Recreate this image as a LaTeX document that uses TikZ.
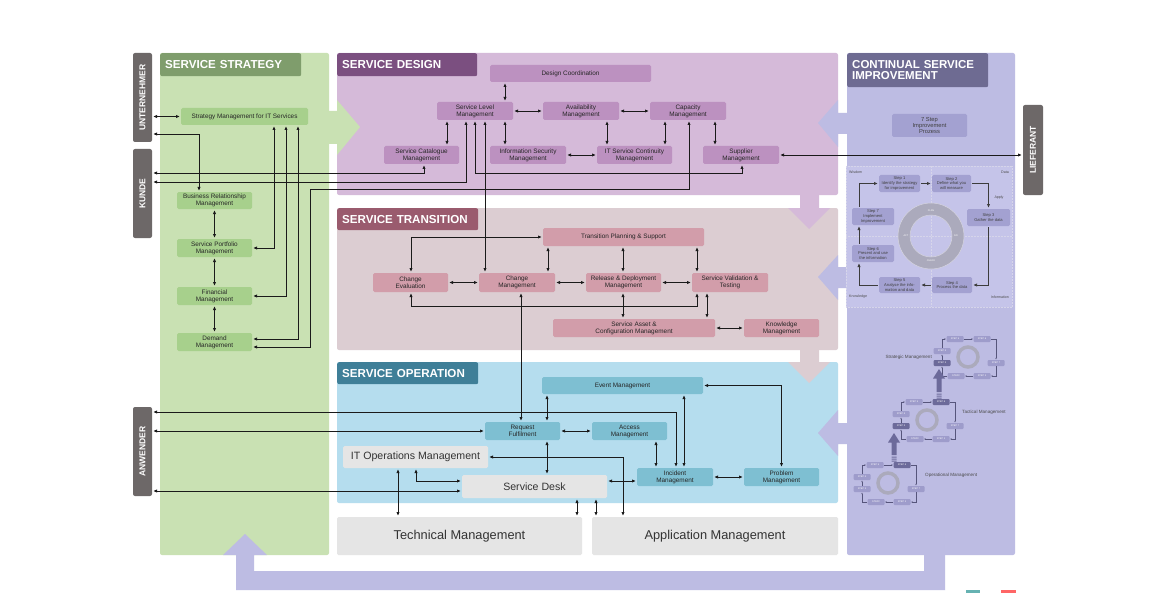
\documentclass[tikz,border=0pt]{standalone}
\usepackage{fontspec}
\setmainfont{Liberation Sans}
\usepackage{graphicx}
\usetikzlibrary{arrows.meta}
\definecolor{stratpanel}{HTML}{C9E1B3}
\definecolor{strathdr}{HTML}{7F9D6C}
\definecolor{stratbox}{HTML}{A7D08C}
\definecolor{despanel}{HTML}{D5BAD9}
\definecolor{deshdr}{HTML}{7B4F80}
\definecolor{desbox}{HTML}{BC91C0}
\definecolor{trpanel}{HTML}{DCCDD2}
\definecolor{trhdr}{HTML}{9A5B6E}
\definecolor{trbox}{HTML}{D29DAA}
\definecolor{oppanel}{HTML}{B5DDEE}
\definecolor{ophdr}{HTML}{3F7F98}
\definecolor{opbox}{HTML}{7EBFD2}
\definecolor{graybox}{HTML}{E5E5E5}
\definecolor{csipanel}{HTML}{BDBCE3}
\definecolor{csihdr}{HTML}{6E6B92}
\definecolor{csibox}{HTML}{A3A1D1}
\definecolor{csiframe}{HTML}{C5C4E9}
\definecolor{sidegray}{HTML}{6D6868}
\definecolor{ringgray}{HTML}{ABAABC}
\definecolor{darkstep}{HTML}{6C6A9A}
\definecolor{ministep}{HTML}{9E9CCB}
\definecolor{linecol}{HTML}{1A1A1A}

\newcommand\fsBox{\fontsize{6.4}{7}\selectfont}
\newcommand\fsStep{\fontsize{4.1}{4.6}\selectfont}
\newcommand\fsTiny{\fontsize{2.4}{2.8}\selectfont}
\newcommand\fsLbl{\fontsize{4.6}{5.2}\selectfont}
\newcommand\procbox[7]{\node[#6, minimum width={#4-#2}, minimum height={#5-#3}] (#1) at ({(#2+#4)/2},{(#3+#5)/2}) {#7};}
\newcommand\minicyc[5]{%
  \draw[ringgray, line width=3.5] (#2,#3) circle[radius=10];
  \node[mini] (#1a) at ({#2+14},{#3+19}) {STEP 1};
  \node[mini] (#1b) at ({#2-12},{#3+19}) {STEP2};
  \node[#4] (#1c) at ({#2-26},{#3+6}) {STEP 3};
  \node[mini] (#1d) at ({#2-26},{#3-6}) {STEP 4};
  \node[mini] (#1e) at ({#2-13},{#3-18}) {STEP 5};
  \node[#5] (#1f) at ({#2+14},{#3-18}) {STEP 6};
  \node[mini] (#1g) at ({#2+28},{#3+6}) {STEP 7};
  \draw[miniarr] (#1d.north) |- (#1e.west);
  \draw[miniarr] (#1e.east) -- (#1f.west);
  \draw[miniarr] (#1f.east) -| (#1g.north);
  \draw[miniarr] (#1g.south) |- (#1a.east);
  \draw[miniarr] (#1a.west) -- (#1b.east);
  \draw[miniarr] (#1b.west) -| (#1c.south);
  \draw[miniarr] (#1c.north) -- (#1d.south);
}

\begin{document}
\begin{tikzpicture}[x=1pt,y=-1pt,
  >={Latex[length=3.8pt,width=3.4pt]},
  box/.style={rounded corners=1.5pt, inner sep=0pt, align=center, font=\fsBox, text=black!85},
  stb/.style={box, fill=stratbox},
  dsb/.style={box, fill=desbox},
  trb/.style={box, fill=trbox},
  opb/.style={box, fill=opbox},
  gry/.style={box, fill=graybox, font=\fontsize{10.6}{12}\selectfont, text=black!80},
  bot/.style={box, fill=graybox, font=\fontsize{12.8}{14}\selectfont, text=black!80},
  csb/.style={box, fill=csibox, font=\fsStep, text=black!75},
  sipb/.style={box, fill=csibox, font=\fontsize{5.8}{6.4}\selectfont, text=black!75},
  mini/.style={rounded corners=1pt, inner sep=0pt, fill=ministep, minimum width=17, minimum height=6, font=\fsTiny, text=white},
  minidark/.style={mini, fill=darkstep},
  side/.style={fill=sidegray, rounded corners=2pt, inner sep=0pt, text=white, font=\bfseries\fontsize{8.5}{9}\selectfont},
  hdr/.style={rounded corners=2pt, inner xsep=5pt, inner ysep=0pt, text=white, font=\bfseries\fontsize{11.6}{11.6}\selectfont, align=left, anchor=north west},
  con/.style={<->, draw=linecol, line width=0.9pt, shorten <=1pt, shorten >=1pt},
  sarr/.style={->, draw=linecol!85, line width=1pt, shorten <=1pt, shorten >=1pt},
  miniarr/.style={-{Latex[length=1.6pt,width=1.4pt]}, draw=darkstep!80!black, line width=0.4pt, shorten >=0.3pt},
  lbl/.style={inner sep=0pt, font=\fsLbl, text=black!70}
]
\useasboundingbox (0,0) rectangle (1157,599);
\fill[white] (0,0) rectangle (1157,599);

% panels
\fill[stratpanel, rounded corners=2pt] (160,53) rectangle (329,555);
\fill[despanel, rounded corners=2pt] (337,53) rectangle (838,195);
\fill[trpanel, rounded corners=2pt] (337,208) rectangle (838,350);
\fill[oppanel, rounded corners=2pt] (337,362) rectangle (838,503);
\fill[csipanel, rounded corners=2pt] (847,53) rectangle (1015,555);

% big flow arrows
\fill[stratpanel] (328,111) -- (337,111) -- (337,100) -- (360,127) -- (337,155) -- (337,144) -- (328,144) -- cycle;
\fill[csipanel] (848,113) -- (838,113) -- (838,100) -- (818,123) -- (838,147) -- (838,134) -- (848,134) -- cycle;
\fill[csipanel] (848,267) -- (838,267) -- (838,255) -- (818,277) -- (838,300) -- (838,288) -- (848,288) -- cycle;
\fill[csipanel] (848,423) -- (838,423) -- (838,410) -- (818,433) -- (838,456) -- (838,444) -- (848,444) -- cycle;
\fill[despanel] (800,194) -- (819,194) -- (819,208) -- (830,208) -- (809,229) -- (788,208) -- (800,208) -- cycle;
\fill[trpanel] (800,349) -- (819,349) -- (819,362) -- (830,362) -- (809,383) -- (788,362) -- (800,362) -- cycle;
\fill[csipanel] (924,554) -- (945,554) -- (945,590) -- (236,590) -- (236,555) -- (223,555) -- (245,534) -- (267,555) -- (254,555) -- (254,571) -- (924,571) -- cycle;
\fill[teal!60] (966,590) rectangle (980,592.5);
\fill[red!60] (1001,590) rectangle (1016,592.5);

% headers
\node[hdr, fill=strathdr, minimum width=141, minimum height=23, text width=131] (hstrat) at (160,53) {SERVICE STRATEGY};
\node[hdr, fill=deshdr, minimum width=140, minimum height=23, text width=130] (hdes) at (337,53) {SERVICE DESIGN};
\node[hdr, fill=trhdr, minimum width=141, minimum height=22, text width=131] (htr) at (337,208) {\mbox{SERVICE TRANSITION}};
\node[hdr, fill=ophdr, minimum width=141, minimum height=22, text width=131] (hop) at (337,362) {SERVICE OPERATION};
\node[hdr, fill=csihdr, minimum width=141, minimum height=34, text width=131, font=\bfseries\fontsize{11.5}{10.5}\selectfont] (hcsi) at (847,53) {CONTINUAL SERVICE\\IMPROVEMENT};

% side labels
\procbox{unt}{133}{53}{152}{142}{side}{\rotatebox{90}{UNTERNEHMER}}
\procbox{kun}{133}{149}{152}{238}{side}{\rotatebox{90}{KUNDE}}
\procbox{anw}{133}{407}{152}{496}{side}{\rotatebox{90}{ANWENDER}}
\procbox{lief}{1023}{105}{1043}{195}{side}{\rotatebox{90}{LIEFERANT}}

% strategy
\procbox{smits}{181}{108}{308}{125}{stb}{Strategy Management for IT Services}
\procbox{brm}{177}{192}{252}{209}{stb}{Business Relationship\\Management}
\procbox{spm}{177}{239}{252}{257}{stb}{Service Portfolio\\Management}
\procbox{fm}{177}{287}{252}{305}{stb}{Financial\\Management}
\procbox{dm}{177}{333}{252}{351}{stb}{Demand\\Management}

% design
\procbox{dc}{490}{65}{651}{82}{dsb}{Design Coordination}
\procbox{slm}{437}{102}{513}{120}{dsb}{Service Level\\Management}
\procbox{av}{543}{102}{619}{120}{dsb}{Availability\\Management}
\procbox{cap}{650}{102}{726}{120}{dsb}{Capacity\\Management}
\procbox{scm}{384}{146}{459}{164}{dsb}{Service Catalogue\\Management}
\procbox{ism}{490}{146}{566}{164}{dsb}{Information Security\\Management}
\procbox{itscm}{597}{146}{672}{164}{dsb}{IT Service Continuity\\Management}
\procbox{sup}{703}{146}{779}{164}{dsb}{Supplier\\Management}

% transition
\procbox{tps}{543}{228}{704}{246}{trb}{Transition Planning \& Support}
\procbox{ce}{373}{273}{448}{292}{trb}{Change\\Evaluation}
\procbox{cm}{479}{273}{555}{292}{trb}{Change\\Management}
\procbox{rdm}{586}{273}{661}{292}{trb}{Release \& Deployment\\Management}
\procbox{svt}{692}{273}{768}{292}{trb}{Service Validation \&\\Testing}
\procbox{sacm}{553}{319}{715}{337}{trb}{Service Asset \&\\Configuration Management}
\procbox{km}{744}{319}{819}{337}{trb}{Knowledge\\Management}

% operation
\procbox{ev}{542}{377}{703}{394}{opb}{Event Management}
\procbox{rf}{485}{422}{560}{440}{opb}{Request\\Fulfilment}
\procbox{acc}{592}{422}{667}{440}{opb}{Access\\Management}
\procbox{itom}{343}{446}{488}{468}{gry}{IT Operations Management}
\procbox{sd}{462}{475}{607}{498}{gry}{Service Desk}
\procbox{inc}{637}{468}{713}{486}{opb}{Incident\\Management}
\procbox{prb}{744}{468}{819}{486}{opb}{Problem\\Management}
\procbox{tech}{337}{517}{582}{555}{bot}{Technical Management}
\procbox{app}{592}{517}{838}{555}{bot}{Application Management}

% CSI
\procbox{sip}{892}{114}{967}{137}{sipb}{7 Step\\Improvement\\Prozess}
\filldraw[fill=csiframe, draw=white!55!csibox, densely dotted, line width=0.5pt] (846,166) rectangle (1012,307);
\draw[white!55!csibox, densely dotted, line width=0.5pt] (931,166) -- (931,307) (846,236) -- (1012,236);
\draw[ringgray, line width=12] (931,236) circle[radius=27];
\draw[white!50!ringgray, line width=0.5] (931,236) circle[radius=33] (931,236) circle[radius=21];
\node[inner sep=0pt, font=\fsTiny, text=white] (rplan) at (931,211) {PLAN};
\node[inner sep=0pt, font=\fsTiny, text=white] (rdo) at (956,236) {DO};
\node[inner sep=0pt, font=\fsTiny, text=white] (rcheck) at (931,261) {CHECK};
\node[inner sep=0pt, font=\fsTiny, text=white] (ract) at (906,236) {ACT};
\node[lbl, font=\fontsize{3.6}{4}\selectfont, anchor=west] (lwis) at (849,172) {Wisdom};
\node[lbl, font=\fontsize{3.6}{4}\selectfont, anchor=east] (ldata) at (1009,172) {Data};
\node[lbl, font=\fontsize{3.6}{4}\selectfont] (lapp) at (999,198) {Apply};
\node[lbl, font=\fontsize{3.6}{4}\selectfont, anchor=west] (lknow) at (849,297) {Knowledge};
\node[lbl, font=\fontsize{3.6}{4}\selectfont, anchor=east] (linf) at (1009,297) {Information};
\procbox{s1}{879}{175}{920}{192}{csb}{Step 1\\Identify the strategy\\for improvement}
\procbox{s2}{932}{175}{971}{192}{csb}{Step 2\\Define what you\\will measure}
\procbox{s3}{967}{209}{1010}{226}{csb}{Step 3\\Gather the data}
\procbox{s4}{932}{277}{972}{293}{csb}{Step 4\\Process the data}
\procbox{s5}{879}{277}{920}{293}{csb}{Step 5\\Analyse the info-\\mation and data}
\procbox{s6}{852}{245}{894}{262}{csb}{Step 6\\Present and use\\the information}
\procbox{s7}{852}{208}{894}{225}{csb}{Step 7\\Implement\\Improvement}
\draw[sarr] (s1) -- (s2);
\draw[sarr] (s2.east) -| (s3.north);
\draw[sarr] (s3.south) |- (s4.east);
\draw[sarr] (s4) -- (s5);
\draw[sarr] (s5.west) -| (s6.south -| 859,0);
\draw[sarr] (s6.north -| 859,0) -- (s7.south -| 859,0);
\draw[sarr] (s7.north -| 859,0) |- (s1.west);

% mini cycles
\minicyc{st}{968}{357}{minidark}{mini}
\minicyc{ta}{927}{420}{minidark}{minidark}
\minicyc{op}{888}{483}{mini}{minidark}
\node[lbl, anchor=east] (lstrat) at (932,357) {Strategic Management};
\node[lbl, anchor=west] (ltact) at (962,412) {Tactical Management};
\node[lbl, anchor=west] (loper) at (925,475) {Operational Management};
\fill[darkstep] (891.5,442) rectangle (896.5,455) (888,442.5) -- (900,442.5) -- (894,433) -- cycle;
\fill[darkstep] (891.5,456.5) rectangle (896.5,457.5) (891.5,458.5) rectangle (896.5,459.5) (891.5,460.5) rectangle (896.5,461.5);
\fill[darkstep] (936.5,378) rectangle (941.5,392) (933,378.5) -- (945,378.5) -- (939,369) -- cycle;
\fill[darkstep] (936.5,393.5) rectangle (941.5,394.5) (936.5,395.5) rectangle (941.5,396.5) (936.5,397.5) rectangle (941.5,398.5);

% strategy connectors
\draw[con] (unt.east |- smits.west) -- (smits.west);
\draw[con] (unt.east |- 0,134) -| (brm.north -| 199,0);
\draw[con] (brm) -- (spm);
\draw[con] (spm) -- (fm);
\draw[con] (fm) -- (dm);
\draw[con] (smits.south -| 274,0) |- (spm.east);
\draw[con] (smits.south -| 286,0) |- (fm.east);
\draw[con] (smits.south -| 298,0) |- (dm.east |- 0,339);
\draw[con] (kun.east |- 0,173) -| (scm.south -| 424,0);
\draw[con] (kun.east |- 0,182) -| (slm.south -| 466,0);
\coordinate (w1) at (310,189);
\draw[con] (dm.east |- 0,347) -| (w1) -| (cap.south -| 689,0);

% design connectors
\draw[con] (dc.south -| 505,0) -- (slm.north -| 505,0);
\draw[con] (slm) -- (av);
\draw[con] (av) -- (cap);
\draw[con] (slm.south -| 447,0) -- (scm.north -| 447,0);
\draw[con] (slm.south -| 505,0) -- (ism.north -| 505,0);
\draw[con] (av.south -| 607,0) -- (itscm.north -| 607,0);
\draw[con] (cap.south -| 665,0) -- (itscm.north -| 665,0);
\draw[con] (cap.south -| 715,0) -- (sup.north -| 715,0);
\draw[con] (ism) -- (itscm);
\draw[con] (sup.east) -- (lief.west |- sup.east);
\coordinate (w2) at (475,173);
\draw[con] (slm.south -| w2) -- (w2) -| (sup.south -| 742,0);
\draw[con] (slm.south -| 485,0) -- (cm.north -| 485,0);

% transition connectors
\draw[con] (ce.north -| 411,0) |- (tps.west);
\draw[con] (ce) -- (cm);
\draw[con] (cm) -- (rdm);
\draw[con] (rdm) -- (svt);
\draw[con] (cm.north -| 548,0) -- (tps.south -| 548,0);
\draw[con] (rdm.north -| 623,0) -- (tps.south -| 623,0);
\draw[con] (svt.north -| 697,0) -- (tps.south -| 697,0);
\coordinate (w3) at (411,306);
\draw[con] (ce.south -| w3) -- (w3) -| (svt.south -| 697,0);
\draw[con] (rdm.south -| 623,0) -- (sacm.north -| 623,0);
\draw[con] (svt.south -| 707,0) -- (sacm.north -| 707,0);
\draw[con] (sacm) -- (km);
\draw[con] (cm.south -| 521,0) -- (rf.north -| 521,0);

% operation connectors
\draw[con] (anw.east |- 0,412) -| (inc.north -| 676,0);
\draw[con] (anw.east |- rf.west) -- (rf.west);
\draw[con] (anw.east |- 0,491) -- (sd.west |- 0,491);
\draw[con] (ev.south -| 547,0) -- (rf.north -| 547,0);
\draw[con] (ev.south -| 684,0) -- (inc.north -| 684,0);
\draw[con] (ev.east) -| (prb.north);
\draw[con] (rf) -- (acc);
\draw[con] (rf.south -| 547,0) -- (sd.north -| 547,0);
\draw[con] (acc.south -| 656,0) -- (inc.north -| 656,0);
\draw[con] (sd.east |- 0,481) -- (inc.west |- 0,481);
\draw[con] (inc) -- (prb);
\draw[con] (itom.south -| 416,0) |- (sd.west |- 0,481);
\draw[con] (itom.south -| 398,0) -- (tech.north -| 398,0);
\draw[con] (sd.south -| 577,0) -- (tech.north -| 577,0);
\draw[con] (sd.south -| 596,0) -- (app.north -| 596,0);
\draw[con] (itom.east) -| (app.north -| 623,0);
\end{tikzpicture}
\end{document}
